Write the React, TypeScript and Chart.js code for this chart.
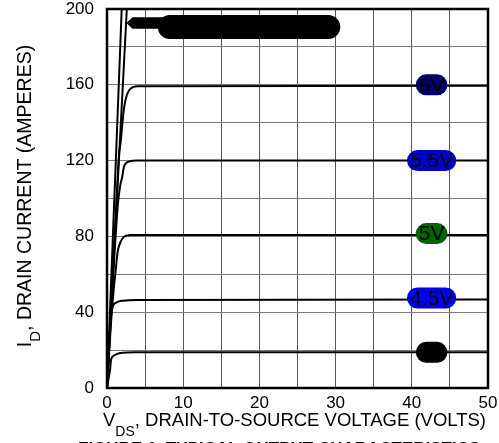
import React, { useEffect, useRef } from "react";
import { Chart, registerables } from "chart.js";

Chart.register(...registerables);

const FONT = "'Liberation Sans', Arial, Helvetica, sans-serif";

// Output characteristic curves (VDS in volts, ID in amperes)
const vds40 = [0, 0.2, 0.4, 0.52, 0.83, 1.27, 2.1, 3.5, 50];
const id40 = [0, 5, 9.5, 14.8, 16.9, 17.9, 18.6, 18.9, 18.9];

const vds45 = [0, 0.2, 0.4, 0.52, 0.75, 1.27, 2.1, 4, 50];
const id45 = [0, 17, 32.3, 37.6, 42.9, 45.2, 46.1, 46.5, 46.7];

const vds50 = [0, 0.5, 0.9, 1.14, 1.27, 1.44, 1.8, 2.23, 3.1, 50];
const id50 = [0, 33, 53, 62, 67.5, 72.8, 77.2, 79.8, 80.7, 80.8];

const vds55 = [0, 0.6, 1.0, 1.27, 1.44, 1.7, 2.0, 2.23, 2.9, 4, 50];
const id55 = [0, 44, 72, 88.7, 97.5, 106, 111.5, 116.8, 119.5, 120, 120];

const vds60 = [0, 0.8, 1.3, 1.57, 1.8, 2.0, 2.23, 2.6, 3.1, 4, 50];
const id60 = [0, 63, 103, 123, 130, 138.8, 147.6, 154.6, 158, 159.3, 159.5];

const vdsHiA = [0, 1.93];
const idHiA = [0, 200];
const vdsHiB = [0, 2.6];
const idHiB = [0, 200];

// Curve labels
const labelTexts = ["6V", "5.5V", "5V", "4.5V", "4V"];
const labelVds = [42.6, 42.6, 42.6, 42.6, 42.6];
const labelId = [160, 120, 81.5, 47.5, 18.8];
const labelColors = ["#00006e", "#0000c8", "#006400", "#0000f0", "#000000"];

// Callout for the steep curves
const calloutText = "VGS = 10V, 8V, 7V";
const calloutVds = 18.64;
const calloutId = 190.5;
const calloutTipVds = 2.55;
const calloutTipId = 192.6;

// Axis ticks
const xTickLabels = [0, 10, 20, 30, 40, 50];
const yTickLabels = [0, 40, 80, 120, 160, 200];

const xTitleMain = "V";
const xTitleSub = "DS";
const xTitleRest = ", DRAIN-TO-SOURCE VOLTAGE (VOLTS)";
const yTitleMain = "I";
const yTitleSub = "D";
const yTitleRest = ", DRAIN CURRENT (AMPERES)";
const caption = "FIGURE 6. TYPICAL OUTPUT CHARACTERISTICS";

function toPoints(xs: number[], ys: number[]) {
  return xs.map((x, i) => ({ x, y: ys[i] }));
}

function pill(ctx: CanvasRenderingContext2D, cx: number, cy: number, w: number, h: number) {
  const r = h / 2;
  const l = cx - w / 2;
  const rr = cx + w / 2;
  ctx.beginPath();
  ctx.moveTo(l + r, cy - r);
  ctx.lineTo(rr - r, cy - r);
  ctx.arc(rr - r, cy, r, -Math.PI / 2, Math.PI / 2);
  ctx.lineTo(l + r, cy + r);
  ctx.arc(l + r, cy, r, Math.PI / 2, (3 * Math.PI) / 2);
  ctx.closePath();
}

const overlayPlugin = {
  id: "overlay",
  afterDatasetsDraw(chart: any) {
    const { ctx, chartArea: a, scales } = chart;
    const x = scales.x;
    const y = scales.y;
    ctx.save();
    ctx.strokeStyle = "#000";
    ctx.lineWidth = 2.5;
    ctx.strokeRect(a.left, a.top, a.right - a.left, a.bottom - a.top);

    ctx.font = `21px ${FONT}`;
    ctx.textAlign = "center";
    ctx.textBaseline = "middle";
    labelTexts.forEach((t, i) => {
      const cx = x.getPixelForValue(labelVds[i]);
      const cy = y.getPixelForValue(labelId[i]);
      const w = ctx.measureText(t).width + 6;
      pill(ctx, cx, cy, w, 21);
      ctx.fillStyle = labelColors[i];
      ctx.fill();
      ctx.fillStyle = "#000";
      ctx.fillText(t, cx, cy + 1);
    });

    const ccx = x.getPixelForValue(calloutVds);
    const ccy = y.getPixelForValue(calloutId);
    const cw = ctx.measureText(calloutText).width + 6;
    const tipX = x.getPixelForValue(calloutTipVds);
    const tipY = y.getPixelForValue(calloutTipId);
    ctx.fillStyle = "#000";
    ctx.beginPath();
    ctx.moveTo(tipX, tipY);
    ctx.lineTo(tipX + 6, tipY - 5.8);
    ctx.lineTo(ccx - cw / 2 + 10, tipY - 5.8);
    ctx.lineTo(ccx - cw / 2 + 10, tipY + 5.8);
    ctx.lineTo(tipX + 6, tipY + 5.8);
    ctx.closePath();
    ctx.fill();
    pill(ctx, ccx, ccy, cw, 24);
    ctx.fill();
    ctx.fillStyle = "#000";
    ctx.fillText(calloutText, ccx, ccy + 1);
    ctx.restore();
  },
  afterDraw(chart: any) {
    const { ctx, chartArea: a } = chart;
    ctx.save();
    ctx.fillStyle = "#000";
    ctx.textBaseline = "alphabetic";
    ctx.textAlign = "left";
    const mainFont = `18.5px ${FONT}`;
    const subFont = `14px ${FONT}`;

    ctx.font = mainFont;
    const wV = ctx.measureText(xTitleMain).width;
    const wRest = ctx.measureText(xTitleRest).width;
    ctx.font = subFont;
    const wSub = ctx.measureText(xTitleSub).width;
    const total = wV + wSub + wRest;
    const sx = (a.left + a.right) / 2 - 3 - total / 2;
    ctx.font = mainFont;
    ctx.fillText(xTitleMain, sx, 426);
    ctx.font = subFont;
    ctx.fillText(xTitleSub, sx + wV, 436);
    ctx.font = mainFont;
    ctx.fillText(xTitleRest, sx + wV + wSub, 426);

    const yMain = `19.5px ${FONT}`;
    const ySubF = `15px ${FONT}`;
    ctx.font = yMain;
    const yV = ctx.measureText(yTitleMain).width;
    const yRest = ctx.measureText(yTitleRest).width;
    ctx.font = ySubF;
    const ySub = ctx.measureText(yTitleSub).width;
    const ytotal = yV + ySub + yRest;
    ctx.save();
    ctx.translate(31, 196);
    ctx.rotate(-Math.PI / 2);
    const sy = -ytotal / 2;
    ctx.font = yMain;
    ctx.fillText(yTitleMain, sy, 0);
    ctx.font = ySubF;
    ctx.fillText(yTitleSub, sy + yV, 9);
    ctx.font = yMain;
    ctx.fillText(yTitleRest, sy + yV + ySub, 0);
    ctx.restore();

    ctx.font = `bold 17px ${FONT}`;
    ctx.fillText(caption, 78, 454);
    ctx.restore();
  },
};

export default function App() {
  const ref = useRef<HTMLCanvasElement | null>(null);
  useEffect(() => {
    if (!ref.current) return;
    const line = (xs: number[], ys: number[]) => ({
      data: toPoints(xs, ys),
      borderColor: "#000",
      borderWidth: 2,
      pointRadius: 0,
      fill: false,
      cubicInterpolationMode: "monotone" as const,
    });
    const chart = new Chart(ref.current, {
      type: "line",
      data: {
        datasets: [
          line(vds40, id40),
          line(vds45, id45),
          line(vds50, id50),
          line(vds55, id55),
          line(vds60, id60),
          line(vdsHiA, idHiA),
          line(vdsHiB, idHiB),
        ],
      },
      options: {
        animation: false,
        responsive: true,
        maintainAspectRatio: false,
        devicePixelRatio: 1,
        layout: { padding: { top: 9, right: 11, left: 0, bottom: 0 } },
        plugins: { legend: { display: false }, tooltip: { enabled: false } },
        scales: {
          x: {
            type: "linear",
            min: 0,
            max: 50,
            afterFit: (s: any) => {
              s.height = 55;
              s.paddingLeft = 0;
              s.paddingRight = 0;
            },
            grid: { color: "#555", lineWidth: 1, drawTicks: false },
            border: { display: false },
            ticks: {
              stepSize: 5,
              autoSkip: false,
              maxRotation: 0,
              padding: 5,
              color: "#000",
              font: { family: FONT, size: 17 },
              callback: (v: any) => (xTickLabels.includes(Number(v)) ? String(v) : ""),
            },
          },
          y: {
            type: "linear",
            min: 0,
            max: 200,
            afterFit: (s: any) => {
              s.width = 107;
              s.paddingTop = 0;
              s.paddingBottom = 0;
            },
            grid: { color: "#7a7a7a", lineWidth: 1, drawTicks: false },
            border: { display: false },
            ticks: {
              stepSize: 20,
              autoSkip: false,
              padding: 13,
              color: "#000",
              font: { family: FONT, size: 17 },
              callback: (v: any) => (yTickLabels.includes(Number(v)) ? String(v) : ""),
            },
          },
        },
      },
      plugins: [overlayPlugin],
    });
    return () => chart.destroy();
  }, []);
  return (
    <div style={{ position: "fixed", left: 0, top: 0, width: 499, height: 443, background: "#fff" }}>
      <canvas ref={ref} />
    </div>
  );
}
